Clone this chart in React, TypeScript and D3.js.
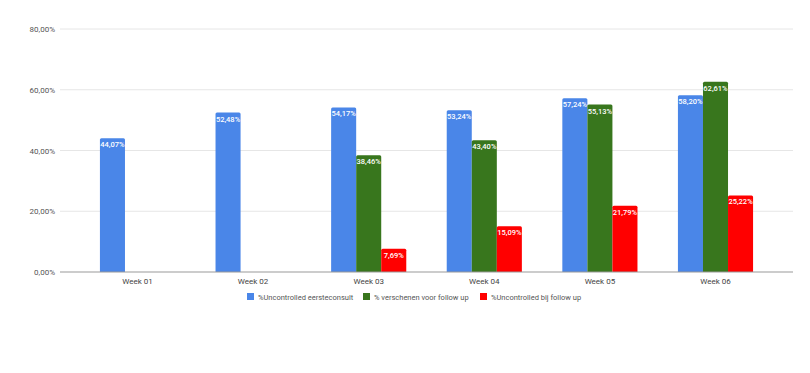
import * as d3 from 'd3';

const weeks = ['Week 01', 'Week 02', 'Week 03', 'Week 04', 'Week 05', 'Week 06'];
const seriesNames = ['%Uncontrolled eersteconsult', '% verschenen voor follow up', '%Uncontrolled bij follow up'];
const seriesColors = ['#4a86e8', '#38761d', '#ff0000'];
const uncontrolledFirst = [44.07, 52.48, 54.17, 53.24, 57.24, 58.2];
const showedUp = [null, null, 38.46, 43.4, 55.13, 62.61];
const uncontrolledFollowUp = [null, null, 7.69, 15.09, 21.79, 25.22];
const yTicks = [0, 20, 40, 60, 80];

const W = 810;
const H = 373;

const fmt = (v: number) => v.toFixed(2).replace('.', ',') + '%';

export default function App() {
  const series = [uncontrolledFirst, showedUp, uncontrolledFollowUp];
  const y = d3.scaleLinear().domain([0, 80]).range([272, 29]);
  const x = d3.scaleBand().domain(weeks).range([79.7, 773.3]).paddingInner(0.35).paddingOuter(0.175);
  const xs = d3.scaleBand().domain(['0', '1', '2']).range([0, x.bandwidth()]);
  const gridLeft = 60;
  const gridRight = 793;
  const font = 'Roboto, Arial, sans-serif';

  // rounded-top bar path
  const barPath = (x0: number, w: number, top: number, bottom: number, r = 1.5) =>
    `M${x0},${bottom}V${top + r}Q${x0},${top} ${x0 + r},${top}H${x0 + w - r}Q${x0 + w},${top} ${x0 + w},${top + r}V${bottom}Z`;

  const legendItems = [
    { x: 247, text: seriesNames[0] },
    { x: 363, text: seriesNames[1] },
    { x: 480, text: seriesNames[2] },
  ];

  return (
    <svg width={W} height={H} style={{ position: 'absolute', left: 0, top: 0, background: '#fff' }} fontFamily={font}>
      <rect width={W} height={H} fill="#fff" />
      {yTicks.map((t) => (
        <g key={t}>
          {t !== 0 && (
            <line x1={gridLeft} x2={gridRight} y1={y(t)} y2={y(t)} stroke="#e6e6e6" strokeWidth={1} />
          )}
          <text x={55} y={y(t) + 3} textAnchor="end" fontSize={8} fill="#555">
            {t.toFixed(2).replace('.', ',') + '%'}
          </text>
        </g>
      ))}
      {weeks.map((wk, i) => (
        <g key={wk} transform={`translate(${x(wk)},0)`}>
          {series.map((s, j) => {
            const v = s[i];
            if (v == null) return null;
            const bx = xs(String(j))!;
            const bw = xs.bandwidth();
            return (
              <g key={j}>
                <path d={barPath(bx, bw, y(v), y(0))} fill={seriesColors[j]} />
                <text x={bx + bw / 2} y={y(v) + 9} textAnchor="middle" fontSize={7.5} fill="#fff" fontWeight={500}>
                  {fmt(v)}
                </text>
              </g>
            );
          })}
          <text x={x.bandwidth() / 2} y={284} textAnchor="middle" fontSize={8} fill="#444">
            {wk}
          </text>
        </g>
      ))}
      <line x1={gridLeft} x2={gridRight} y1={y(0)} y2={y(0)} stroke="#999" strokeWidth={1} />
      {legendItems.map((it, j) => (
        <g key={j}>
          <rect x={it.x} y={293} width={7} height={7} fill={seriesColors[j]} />
          <text x={it.x + 11} y={299.5} fontSize={7.5} fill="#555">
            {it.text}
          </text>
        </g>
      ))}
    </svg>
  );
}
